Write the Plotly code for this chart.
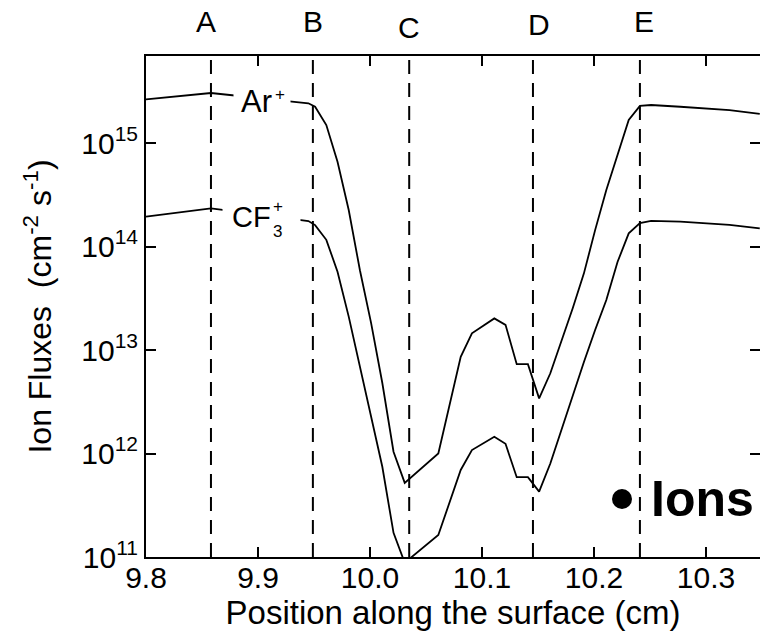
import plotly.graph_objects as go

# ---------------- data ----------------
position_cm = [9.800, 9.858, 9.945, 9.951, 9.961, 9.971, 9.981, 9.991, 10.001,
               10.011, 10.021, 10.031, 10.061, 10.081, 10.091, 10.111, 10.121,
               10.131, 10.141, 10.151, 10.161, 10.181, 10.191, 10.201, 10.211,
               10.221, 10.231, 10.241, 10.251, 10.277, 10.304, 10.321, 10.348]
ar_flux = [2.64e15, 3.04e15, 2.42e15, 2.24e15, 1.49e15, 6.6e14, 2.25e14, 5.9e13,
           1.82e13, 4.8e12, 1.04e12, 5.2e11, 1.0e12, 8.6e12, 1.45e13, 2.02e13,
           1.75e13, 7.3e12, 7.3e12, 3.41e12, 5.96e12, 2.53e13, 5.5e13, 1.44e14,
           3.52e14, 7.66e14, 1.67e15, 2.28e15, 2.33e15, 2.24e15, 2.16e15,
           2.08e15, 1.91e15]
cf3_flux = [1.94e14, 2.34e14, 1.76e14, 1.61e14, 1.16e14, 5.71e13, 2.10e13, 6.9e12,
            2.2e12, 7.45e11, 1.71e11, 8.8e10, 1.63e11, 6.93e11, 1.08e12, 1.45e12,
            1.24e12, 5.9e11, 5.9e11, 4.28e11, 8.0e11, 3.67e12, 7.66e12, 1.56e13,
            3.04e13, 7.08e13, 1.34e14, 1.68e14, 1.77e14, 1.74e14, 1.68e14,
            1.62e14, 1.50e14]

region_x = [9.858, 9.949, 10.035, 10.1455, 10.241]
region_labels = ["A", "B", "C", "D", "E"]

x_ticks = [9.8, 9.9, 10.0, 10.1, 10.2, 10.3]
x_tick_labels = ["9.8", "9.9", "10.0", "10.1", "10.2", "10.3"]
y_ticks = [1e11, 1e12, 1e13, 1e14, 1e15]
y_tick_labels = ["10<sup>11</sup>", "10<sup>12</sup>", "10<sup>13</sup>",
                 "10<sup>14</sup>", "10<sup>15</sup>"]

# ---------------- layout geometry ----------------
W, H = 760, 634
L, R, T, B = 146, 0, 56, 77
PW, PH = W - L - R, H - T - B
FONT = "Liberation Sans, Arial, Helvetica, sans-serif"


def pxx(x):
    return (x - L) / PW


def pxy(y):
    return (H - B - y) / PH


fig = go.Figure()
line_style = dict(color="black", width=1.8)
fig.add_trace(go.Scatter(x=position_cm, y=ar_flux, mode="lines", line=line_style,
                         name="Ar+", hoverinfo="x+y"))
fig.add_trace(go.Scatter(x=position_cm, y=cf3_flux, mode="lines", line=line_style,
                         name="CF3+", hoverinfo="x+y"))

shapes = []
for rx in region_x:
    shapes.append(dict(type="line", xref="x", yref="paper", x0=rx, x1=rx, y0=0, y1=1,
                       line=dict(color="black", width=2, dash="14px,9px"), layer="above"))
# bullet of the "Ions" tag
shapes.append(dict(type="circle", xref="paper", yref="paper", xsizemode="pixel",
                   ysizemode="pixel", xanchor=pxx(622), yanchor=pxy(499),
                   x0=-10, x1=10, y0=-10, y1=10, fillcolor="black",
                   line=dict(color="black", width=0)))

annotations = []
label_shift = {"A": (-5, 22), "B": (0, 22), "C": (0, 27), "D": (6, 25), "E": (4, 22)}
for rx, lab in zip(region_x, region_labels):
    dx, yy = label_shift[lab]
    annotations.append(dict(x=rx, xref="x", y=pxy(yy), yref="paper", text=lab,
                            showarrow=False, xshift=dx, xanchor="center",
                            yanchor="middle", font=dict(family=FONT, size=30, color="black")))

# white covers under the curve labels
annotations.append(dict(x=pxx(262), y=pxy(100), xref="paper", yref="paper", text=" ",
                        showarrow=False, width=56, height=18, bgcolor="white",
                        xanchor="center", yanchor="middle",
                        borderpad=0, font=dict(size=10)))
annotations.append(dict(x=pxx(261), y=pxy(216), xref="paper", yref="paper", text=" ",
                        showarrow=False, width=77, height=20, bgcolor="white",
                        xanchor="center", yanchor="middle",
                        borderpad=0, font=dict(size=10)))
# curve labels
annotations.append(dict(x=pxx(239), y=pxy(101), xref="paper", yref="paper",
                        text="Ar", showarrow=False, xanchor="left", yanchor="middle",
                        font=dict(family=FONT, size=31, color="black")))
annotations.append(dict(x=pxx(280), y=pxy(94), xref="paper", yref="paper",
                        text="+", showarrow=False, xanchor="center", yanchor="middle",
                        font=dict(family=FONT, size=17, color="black")))
annotations.append(dict(x=pxx(230), y=pxy(217), xref="paper", yref="paper",
                        text="CF", showarrow=False, xanchor="left", yanchor="middle",
                        font=dict(family=FONT, size=29, color="black")))
annotations.append(dict(x=pxx(278), y=pxy(206), xref="paper", yref="paper",
                        text="+", showarrow=False, xanchor="center", yanchor="middle",
                        font=dict(family=FONT, size=17, color="black")))
annotations.append(dict(x=pxx(277), y=pxy(232), xref="paper", yref="paper",
                        text="3", showarrow=False, xanchor="center", yanchor="middle",
                        font=dict(family=FONT, size=17, color="black")))
# "Ions" tag
annotations.append(dict(x=pxx(649), y=pxy(499), xref="paper", yref="paper",
                        text="<b>Ions</b>", showarrow=False, xanchor="left",
                        yanchor="middle",
                        font=dict(family=FONT, size=50, color="black")))

axis_common = dict(showline=True, linecolor="black", linewidth=2, ticks="inside",
                   ticklen=10, tickwidth=2, tickcolor="black", mirror="ticks",
                   showgrid=False, zeroline=False,
                   tickfont=dict(family=FONT, size=30, color="black"))

fig.update_layout(
    width=W, height=H,
    margin=dict(l=L, r=R, t=T, b=B, pad=0, autoexpand=False),
    paper_bgcolor="white", plot_bgcolor="white",
    showlegend=False,
    shapes=shapes,
    annotations=annotations,
    xaxis=dict(range=[9.8, 9.8 + PW / 1120.0], tickvals=x_ticks, ticktext=x_tick_labels,
               ticklabelstandoff=-7,
               title=dict(text="Position along the surface (cm)", standoff=2,
                          font=dict(family=FONT, size=33, color="black")),
               **axis_common),
    yaxis=dict(type="log", range=[11, 11 + PH / 103.5], tickvals=y_ticks,
               ticktext=y_tick_labels,
               title=dict(text="Ion Fluxes  (cm<sup>-2</sup> s<sup>-1</sup>)", standoff=20,
                          font=dict(family=FONT, size=32, color="black")),
               **axis_common),
)

fig.write_html("out.html", config={"displayModeBar": False},
               post_script="document.body.style.margin='0';document.body.style.padding='0';")
